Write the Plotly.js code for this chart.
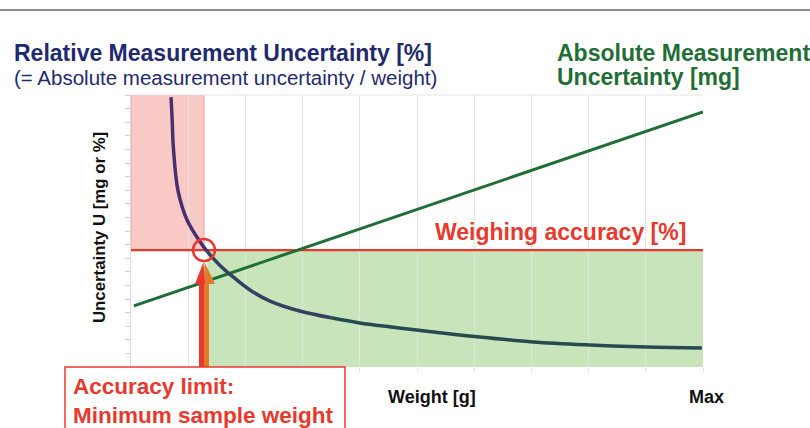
<!DOCTYPE html>
<html>
<head>
<meta charset="utf-8">
<script src="https://cdn.plot.ly/plotly-3.0.1.min.js"></script>
<style>html,body{margin:0;padding:0;background:#fff;}#chart{width:810px;height:428px;}</style>
</head>
<body>
<div id="chart"></div>
<script>
// ---- data ----
const relWeightA = [0.70, 0.72, 0.74, 0.82, 0.98, 1.21, 1.33];
const relValueA  = [19.85, 18.16, 16.18, 13.01, 10.81, 9.19, 8.50];
const relWeightB = [1.33, 1.56, 1.75, 2.08, 2.43, 2.95, 3.50];
const relValueB  = [8.50, 7.45, 6.75, 5.66, 4.85, 4.12, 3.62];
const relWeightC = [3.50, 4.00, 4.55, 5.10, 6.05, 7.03, 8.02, 9.02, 9.98];
const relValueC  = [3.62, 3.24, 2.94, 2.66, 2.22, 1.84, 1.62, 1.47, 1.40];
const absWeight  = [0.05, 10];
const absValue   = [4.49, 18.75];
const accuracyWeight = [0, 10];
const accuracyLevel  = 8.6;   // weighing accuracy [%]
const minWeight      = 1.276; // minimum sample weight
const arrowBase = 6.1, arrowTip = 7.72;
const xMax = 10, yMax = 20;

const RED = '#e8392e', ORANGE = '#e07b2a', GREEN = '#1f6e36', NAVY = '#1f2a6e';
const FONT = 'Liberation Sans, Arial, sans-serif';

const traces = [
  {x: accuracyWeight, y: accuracyWeight.map(() => accuracyLevel), mode: 'lines',
   line: {color: RED, width: 2.2}, hoverinfo: 'skip'},
  {x: absWeight, y: absValue, mode: 'lines', line: {color: GREEN, width: 3}, hoverinfo: 'skip'},
  {x: relWeightA, y: relValueA, mode: 'lines', line: {color: '#4a2f6e', width: 3.5, shape: 'spline'}, hoverinfo: 'skip'},
  {x: relWeightB, y: relValueB, mode: 'lines', line: {color: '#34405f', width: 3.5, shape: 'spline'}, hoverinfo: 'skip'},
  {x: relWeightC, y: relValueC, mode: 'lines', line: {color: '#254a50', width: 3.5, shape: 'spline'}, hoverinfo: 'skip'}
];

function ann(text, x, y, size, color, opts) {
  return Object.assign({text: text, x: x, y: y, xref: 'paper', yref: 'paper',
    xanchor: 'left', yanchor: 'middle', showarrow: false,
    font: {family: FONT, size: size, color: color}}, opts || {});
}
// paper helpers (plot area 131..703 x 95..367 px)
const px = v => (v - 131) / 572;
const py = v => (367 - v) / 272;

const layout = {
  width: 810, height: 428,
  margin: {l: 131, r: 107, t: 95, b: 61},
  paper_bgcolor: '#ffffff', plot_bgcolor: '#ffffff',
  showlegend: false,
  xaxis: {range: [0, xMax], dtick: 1, showticklabels: false, showgrid: true,
    gridcolor: '#e4e4e4', gridwidth: 1, zeroline: false, showline: false,
    ticks: 'outside', ticklen: 4, tickcolor: '#e4e4e4', fixedrange: true},
  yaxis: {range: [0, yMax], dtick: 1, showticklabels: false, showgrid: false,
    zeroline: false, showline: true, linecolor: '#dddddd', linewidth: 1,
    ticks: 'outside', ticklen: 5, tickcolor: '#cfcfcf', fixedrange: true},
  shapes: [
    // top rule
    {type: 'line', xref: 'paper', yref: 'paper', x0: px(0), x1: px(810), y0: py(10), y1: py(10),
     line: {color: '#222222', width: 1.2}},
    // plot frame top
    {type: 'line', xref: 'paper', yref: 'paper', x0: 0, x1: 1, y0: 1, y1: 1, line: {color: '#e6e6e6', width: 1}},
    // red zone
    {type: 'rect', xref: 'x', yref: 'y', x0: 0, x1: minWeight, y0: accuracyLevel, y1: yMax,
     fillcolor: '#f8c9c5', line: {color: '#f0a29b', width: 1}, layer: 'below'},
    // green zone
    {type: 'rect', xref: 'x', yref: 'y', x0: minWeight + 0.06, x1: xMax, y0: 0, y1: accuracyLevel,
     fillcolor: '#c7e4ba', line: {width: 0}, layer: 'below'},
    // arrow shafts
    {type: 'rect', xref: 'x', yref: 'y', xsizemode: 'pixel', xanchor: minWeight, x0: -5, x1: 0,
     y0: 0, y1: arrowBase, fillcolor: RED, line: {width: 0}},
    {type: 'rect', xref: 'x', yref: 'y', xsizemode: 'pixel', xanchor: minWeight, x0: 0, x1: 5,
     y0: 0, y1: arrowBase, fillcolor: ORANGE, line: {width: 0}},
    // arrow heads
    {type: 'path', xref: 'x', yref: 'y', xsizemode: 'pixel', xanchor: minWeight,
     path: `M0,${arrowBase} L0.5,${arrowTip} L11,${arrowBase} Z`, fillcolor: ORANGE, line: {width: 0}},
    {type: 'path', xref: 'x', yref: 'y', xsizemode: 'pixel', xanchor: minWeight,
     path: `M-9,${arrowBase} L-0.5,${arrowTip} L1,${arrowBase} Z`, fillcolor: RED, line: {width: 0}},
    // circle at intersection
    {type: 'circle', xref: 'x', yref: 'y', xsizemode: 'pixel', ysizemode: 'pixel',
     xanchor: minWeight, yanchor: accuracyLevel, x0: -11, x1: 11, y0: -11, y1: 11,
     line: {color: RED, width: 2.5}},
    // label box
    {type: 'rect', xref: 'paper', yref: 'paper', x0: px(65), x1: px(345), y0: py(367), y1: py(440),
     fillcolor: '#ffffff', line: {color: RED, width: 1.5}}
  ],
  annotations: [
    ann('<b>Relative Measurement Uncertainty [%]</b>', px(12), py(53), 23, NAVY),
    ann('(= Absolute measurement uncertainty / weight)', px(12), py(77), 20.5, NAVY),
    ann('<b>Absolute Measurement</b>', px(555), py(53), 23, GREEN),
    ann('<b>Uncertainty [mg]</b>', px(555), py(77), 23, GREEN),
    ann('<b>Weighing accuracy [%]</b>', px(688), py(232), 23, RED, {xanchor: 'right'}),
    ann('<b>Uncertainty U [mg or %]</b>', px(99), py(228), 16.8, '#111111', {xanchor: 'center', textangle: -90}),
    ann('<b>Weight [g]</b>', px(386), py(397), 18, '#111111'),
    ann('<b>Max</b>', px(687), py(397), 18, '#111111'),
    ann('<b>Accuracy limit:</b><br><b>Minimum sample weight</b>', px(71), py(401), 22.5, RED, {align: 'left'})
  ]
};

Plotly.newPlot('chart', traces, layout, {staticPlot: true, displayModeBar: false});
</script>
</body>
</html>
